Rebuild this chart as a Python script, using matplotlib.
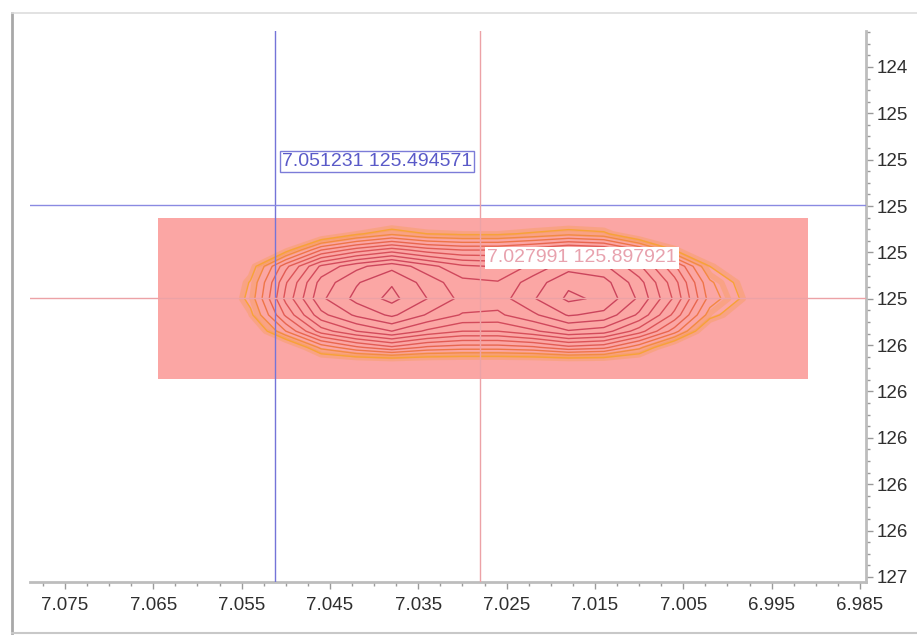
import matplotlib.pyplot as plt
from matplotlib.patches import Rectangle
from matplotlib.lines import Line2D
from matplotlib.ticker import MultipleLocator

plt.rcParams['font.family'] = ['Liberation Sans', 'DejaVu Sans']

# spectrum grid (ppm) and contour intensities (in contour-level units)
x_ppm = [7.058, 7.054, 7.050, 7.046, 7.042, 7.038, 7.034, 7.030, 7.026,
         7.022, 7.018, 7.014, 7.010, 7.006, 7.002, 6.998, 6.994]
y_ppm = [125.55, 125.62, 125.69, 125.76, 125.83, 125.90, 125.97, 126.04,
         126.11, 126.18, 126.25]
intensity = [
    [-1, -1, -1, -1, -1, -1, -1, -1, -1, -1, -1, -1, -1, -1, -1, -1, -1],
    [-1, -1, -1, -0.7, 0.8, 1.8, 1.0, 0.8, 0.8, 1.2, 1.7, 1.3, -0.7, -1, -1, -1, -1],
    [-1, -1, 0.5, 4.0, 5.5, 6.5, 5.5, 5.0, 5.0, 5.6, 6.4, 6.0, 4.0, 1.0, -1, -1, -1],
    [-1, 0.3, 4.7, 8.2, 9.7, 10.7, 9.4, 8.2, 7.9, 9.3, 10.6, 10.2, 8.2, 5.2, 1.0, -0.8, -1],
    [-1, 1.1, 5.9, 9.4, 10.9, 11.9, 10.6, 9.3, 9.1, 10.5, 11.8, 11.4, 9.4, 6.4, 2.2, 0.4, -1],
    [-1, 1.4, 6.3, 9.8, 11.3, 12.3, 11.0, 9.7, 9.5, 10.9, 12.2, 11.8, 9.8, 6.8, 2.6, 0.7, -1],
    [-1, 0.7, 5.2, 8.7, 10.2, 11.2, 9.9, 8.9, 8.8, 9.8, 11.1, 10.7, 8.8, 5.7, 1.5, -0.3, -1],
    [-1, -0.8, 3.0, 6.5, 8.0, 9.0, 7.8, 7.0, 7.0, 7.8, 8.9, 8.5, 6.5, 3.5, -0.7, -1, -1],
    [-1, -1, -1, 2.3, 3.8, 4.8, 3.8, 3.5, 3.5, 3.8, 4.7, 4.3, 2.3, -0.7, -1, -1, -1],
    [-1, -1, -1, -1, -1, -1, -1, -1, -1, -1, -1, -1, -1, -1, -1, -1, -1],
    [-1, -1, -1, -1, -1, -1, -1, -1, -1, -1, -1, -1, -1, -1, -1, -1, -1],
]
levels = [1, 2, 3, 4, 5, 6, 7, 8, 9, 10, 11, 12]
level_colors = ['#f7a238', '#f38a42', '#ee7548', '#e8664f', '#e25c55', '#dc5458',
                '#d74f5a', '#d34b5b', '#d0485c', '#cd465c', '#cb445c', '#c9435c']

# highlighted region
region_x = [7.0645, 6.9909]
region_y = [125.552, 126.246]

# cursors
blue_x, blue_y = 7.051231, 125.494571
red_x, red_y = 7.027991, 125.897921

x_ticks = [7.075, 7.065, 7.055, 7.045, 7.035, 7.025, 7.015, 7.005, 6.995, 6.985]
y_ticks = [124.9, 125.1, 125.3, 125.5, 125.7, 125.9, 126.1, 126.3, 126.5, 126.7, 126.9, 127.1]
y_labels = ['124', '125', '125', '125', '125', '125', '126', '126', '126', '126', '126', '127']

fig = plt.figure(figsize=(9.17, 6.35), dpi=100)
ax = fig.add_axes([30 / 917, 1 - 582 / 635, 836 / 917, 551 / 635])

ax.add_patch(Rectangle((region_x[0], region_y[0]), region_x[1] - region_x[0],
                       region_y[1] - region_y[0], facecolor='#fba6a4', edgecolor='none', zorder=1))

# orange haze round the outer contours
ax.contour(x_ppm, y_ppm, intensity, levels=[0.8, 1.6], colors='#f59a3c',
           linewidths=4, alpha=0.3, zorder=2)
ax.contour(x_ppm, y_ppm, intensity, levels=levels, colors=level_colors,
           linewidths=1.0, zorder=3)

ax.axvline(blue_x, color='#7474d8', lw=1.0, zorder=4)
ax.axhline(blue_y, color='#8a8ae2', lw=1.0, zorder=4)
ax.axvline(red_x, color='#eca2a6', lw=1.0, zorder=4)
ax.axhline(red_y, color='#eca2a6', lw=1.0, zorder=4)

ax.annotate(f'{blue_x:.6f} {blue_y:.6f}', xy=(blue_x, blue_y), xytext=(5, 25),
            textcoords='offset points', ha='left', va='bottom', fontsize=14,
            color='#5a5ac8', zorder=6,
            bbox=dict(boxstyle='square,pad=0.12', fc='white', ec='#7c7cd8', lw=1))
ax.annotate(f'{red_x:.6f} {red_y:.6f}', xy=(red_x, red_y), xytext=(5, 23),
            textcoords='offset points', ha='left', va='bottom', fontsize=14,
            color='#e8a2ae', zorder=6,
            bbox=dict(boxstyle='square,pad=0.12', fc='white', ec='none'))

ax.set_xlim(7.07896, 6.98432)
ax.set_ylim(127.122, 124.745)

ax.set_xticks(x_ticks)
ax.set_xticklabels([f'{v:.3f}' for v in x_ticks])
ax.xaxis.set_minor_locator(MultipleLocator(0.0025))
ax.yaxis.tick_right()
ax.set_yticks(y_ticks)
ax.set_yticklabels(y_labels)
ax.yaxis.set_minor_locator(MultipleLocator(0.05))

ax.tick_params(which='both', direction='out', color='#9a9a9a', width=1,
               labelcolor='#2e2e2e', labelsize=13.5)
ax.tick_params(which='major', length=5)
ax.tick_params(which='minor', length=3)
ax.tick_params(axis='x', pad=6)
ax.tick_params(axis='y', pad=3)

for side in ['left', 'top']:
    ax.spines[side].set_visible(False)
for side in ['bottom', 'right']:
    ax.spines[side].set_color('#bdbdbd')
    ax.spines[side].set_linewidth(2)

# window frame
fig.add_artist(Line2D([12 / 917, 12 / 917], [2 / 635, 622 / 635], color='#a8a8a8', lw=2))
fig.add_artist(Line2D([12 / 917, 1], [622 / 635, 622 / 635], color='#dddddd', lw=1.2))
fig.add_artist(Line2D([12 / 917, 1], [2 / 635, 2 / 635], color='#c8c8c8', lw=1.5))

fig.savefig('out.png', dpi=100)
